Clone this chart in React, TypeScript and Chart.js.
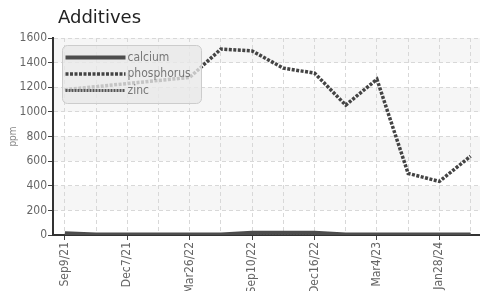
import React, { useEffect, useRef } from "react";
import { Chart, registerables } from "chart.js";

Chart.register(...registerables);

const chartTitle = "Additives";
const yAxisTitle = "ppm";
const tickLabels = ["Sep9/21", "Dec7/21", "Mar26/22", "Sep10/22", "Dec16/22", "Mar4/23", "Jan28/24"];
const calcium = [14, 4, 4, 4, 4, 4, 18, 18, 18, 5, 5, 5, 5, 5];
const phosphorus = [1180, 1205, 1230, 1255, 1280, 1510, 1495, 1355, 1315, 1055, 1265, 500, 435, 640];
const zinc = [3, 3, 3, 3, 3, 3, 3, 3, 3, 3, 3, 3, 3, 3];
const yMin = 0;
const yMax = 1600;
const yStep = 200;

const FONT = "'DejaVu Sans Condensed', 'DejaVu Sans', sans-serif";

const bandsPlugin = {
  id: "bands",
  beforeDraw(chart: any) {
    const { ctx, chartArea, scales } = chart;
    const y = scales.y;
    ctx.save();
    ctx.fillStyle = "#f6f6f6";
    for (let v = yMin + yStep; v < yMax; v += yStep * 2) {
      const top = y.getPixelForValue(v + yStep);
      const bottom = y.getPixelForValue(v);
      ctx.fillRect(chartArea.left, top, chartArea.right - chartArea.left, bottom - top);
    }
    ctx.restore();
  },
};

const titlePlugin = {
  id: "leftTitle",
  afterDraw(chart: any) {
    const { ctx, chartArea } = chart;
    ctx.save();
    ctx.fillStyle = "#222";
    ctx.font = "18px 'DejaVu Sans', sans-serif";
    ctx.textAlign = "left";
    ctx.textBaseline = "alphabetic";
    ctx.fillText(chartTitle, chartArea.left + 5, 23);
    ctx.restore();
  },
};

const legendPlugin = {
  id: "boxLegend",
  afterDatasetsDraw(chart: any) {
    const { ctx, chartArea } = chart;
    const x = chartArea.left + 9.5;
    const y = chartArea.top + 7.5;
    const w = 139;
    const h = 58;
    ctx.save();
    ctx.beginPath();
    (ctx as any).roundRect(x, y, w, h, 5);
    ctx.fillStyle = "rgba(232,232,232,0.78)";
    ctx.fill();
    ctx.strokeStyle = "#cccccc";
    ctx.lineWidth = 1;
    ctx.stroke();
    chart.data.datasets.forEach((ds: any, i: number) => {
      const ly = y + 12 + i * 16.5;
      ctx.beginPath();
      ctx.strokeStyle = ds.borderColor;
      ctx.lineWidth = ds.borderWidth;
      ctx.setLineDash(ds.borderDash || []);
      ctx.moveTo(x + 3, ly);
      ctx.lineTo(x + 63, ly);
      ctx.stroke();
      ctx.setLineDash([]);
      ctx.fillStyle = "#777";
      ctx.font = "12px " + FONT;
      ctx.textAlign = "left";
      ctx.textBaseline = "middle";
      ctx.fillText(ds.label, x + 65, ly);
    });
    ctx.restore();
  },
};

export default function App() {
  const ref = useRef<HTMLCanvasElement>(null);
  useEffect(() => {
    const canvas = ref.current!;
    const labels = phosphorus.map((_, i) => i);
    const chart = new Chart(canvas, {
      type: "line",
      data: {
        labels,
        datasets: [
          { label: "calcium", data: calcium, borderColor: "#4d4d4d", borderWidth: 4, pointRadius: 0, tension: 0 },
          { label: "phosphorus", data: phosphorus, borderColor: "#444", borderWidth: 3.5, borderDash: [3, 1.5], pointRadius: 0, tension: 0 },
          { label: "zinc", data: zinc, borderColor: "#555", borderWidth: 3, borderDash: [2, 1], pointRadius: 0, tension: 0 },
        ],
      },
      options: {
        responsive: false,
        animation: false,
        layout: { padding: { top: 38, right: 2, left: 0, bottom: 0 } },
        plugins: { legend: { display: false }, title: { display: false }, tooltip: { enabled: false } },
        scales: {
          x: {
            type: "linear",
            min: -0.38,
            max: 13.3,
            afterFit: (s: any) => { s.height = 56; },
            grid: {
              color: "#d8d8d8",
              lineWidth: 1,
              tickLength: 5,
              tickColor: (c: any) => (c.tick && c.tick.value % 2 === 0 ? "#444" : "rgba(0,0,0,0)"),
            },
            border: { display: true, color: "#333", width: 2, dash: [4, 3] },
            ticks: {
              stepSize: 1,
              includeBounds: false,
              autoSkip: false,
              maxRotation: 90,
              minRotation: 90,
              padding: 2,
              color: "#666",
              font: { family: FONT, size: 12 },
              callback: (v: any) => (Number.isInteger(v) && v % 2 === 0 ? tickLabels[v / 2] ?? "" : ""),
            },
          },
          y: {
            min: yMin,
            max: yMax,
            afterFit: (s: any) => { s.width = 53; },
            grid: { color: "#d8d8d8", lineWidth: 1, tickLength: 5, tickColor: "#444" },
            border: { display: true, color: "#333", width: 2, dash: [4, 3] },
            ticks: { stepSize: yStep, padding: 1, color: "#666", font: { family: FONT, size: 12 }, callback: (v: any) => String(v) },
            title: { display: true, text: yAxisTitle, color: "#888", font: { family: FONT, size: 10 }, padding: { top: 7, bottom: 0 } },
          },
        },
      },
      plugins: [bandsPlugin, legendPlugin, titlePlugin],
    });
    return () => chart.destroy();
  }, []);
  return (
    <div style={{ position: "absolute", left: 0, top: 0, width: 487, height: 291 }}>
      <canvas ref={ref} width={487} height={291} style={{ display: "block" }} />
    </div>
  );
}
